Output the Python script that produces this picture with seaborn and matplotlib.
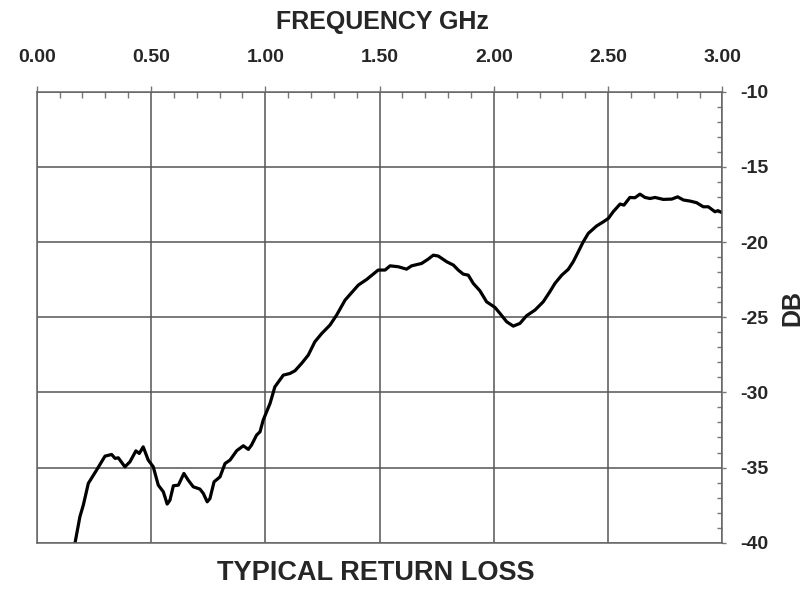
import numpy as np
import pandas as pd
import matplotlib
matplotlib.use('Agg')
import matplotlib.pyplot as plt
import seaborn as sns
from matplotlib.ticker import MultipleLocator

# Dados (frequência em GHz, perda de retorno em dB)
freq = [0.168, 0.189, 0.204, 0.226, 0.262, 0.299, 0.328, 0.343, 0.357, 0.386,
        0.408, 0.434, 0.449, 0.466, 0.488, 0.510, 0.532, 0.554, 0.571, 0.583,
        0.598, 0.620, 0.644, 0.663, 0.685, 0.714, 0.729, 0.746, 0.758, 0.776,
        0.802, 0.824, 0.846, 0.875, 0.904, 0.926, 0.940, 0.962, 0.977, 0.991,
        1.021, 1.042, 1.079, 1.108, 1.130, 1.159, 1.188, 1.217, 1.247, 1.283,
        1.312, 1.349, 1.407, 1.444, 1.494, 1.524, 1.546, 1.582, 1.618, 1.640,
        1.684, 1.713, 1.735, 1.757, 1.794, 1.823, 1.844, 1.866, 1.888, 1.910,
        1.939, 1.968, 2.005, 2.027, 2.056, 2.085, 2.114, 2.143, 2.180, 2.216,
        2.245, 2.267, 2.297, 2.325, 2.347, 2.369, 2.391, 2.413, 2.450, 2.479,
        2.501, 2.522, 2.552, 2.569, 2.595, 2.617, 2.639, 2.661, 2.683, 2.705,
        2.741, 2.778, 2.804, 2.829, 2.858, 2.887, 2.916, 2.938, 2.967, 2.980,
        3.000]
return_loss = [-40.0, -38.28, -37.5, -36.05, -35.17, -34.24, -34.13, -34.39, -34.35, -34.95,
               -34.62, -33.89, -34.06, -33.62, -34.5, -34.95, -36.17, -36.61, -37.43, -37.17,
               -36.21, -36.17, -35.39, -35.84, -36.28, -36.43, -36.72, -37.28, -37.06, -35.95,
               -35.62, -34.73, -34.5, -33.88, -33.55, -33.79, -33.5, -32.84, -32.62, -31.84,
               -30.73, -29.63, -28.85, -28.74, -28.56, -28.07, -27.52, -26.63, -26.08, -25.52,
               -24.86, -23.86, -22.86, -22.48, -21.86, -21.86, -21.58, -21.64, -21.8, -21.58,
               -21.42, -21.13, -20.87, -20.93, -21.31, -21.53, -21.86, -22.13, -22.2, -22.75,
               -23.24, -23.97, -24.35, -24.75, -25.3, -25.59, -25.41, -24.9, -24.52, -23.97,
               -23.3, -22.75, -22.2, -21.82, -21.31, -20.65, -19.98, -19.42, -18.92, -18.65,
               -18.42, -17.98, -17.47, -17.54, -17.03, -17.05, -16.81, -17.03, -17.1, -17.03,
               -17.16, -17.14, -16.99, -17.2, -17.27, -17.38, -17.65, -17.65, -17.98, -17.91,
               -18.05]

x_ticks = [0.0, 0.5, 1.0, 1.5, 2.0, 2.5, 3.0]
x_tick_labels = ['0.00', '0.50', '1.00', '1.50', '2.00', '2.50', '3.00']
y_ticks = [-10, -15, -20, -25, -30, -35, -40]

df = pd.DataFrame({'freq': freq, 'db': return_loss})

sns.set_style('white')
plt.rcParams['font.family'] = ['Liberation Sans', 'DejaVu Sans']
plt.rcParams['font.weight'] = 'bold'
plt.rcParams['axes.unicode_minus'] = False

fig = plt.figure(figsize=(8.04, 5.91), dpi=100)
ax = fig.add_axes([0.0456, 0.0817, 0.853, 0.763])

sns.lineplot(data=df, x='freq', y='db', ax=ax, color='black', linewidth=2.3)

ax.set_xlim(0, 3)
ax.set_ylim(-40, -10)

# eixo X no topo, eixo Y à direita
ax.xaxis.tick_top()
ax.yaxis.tick_right()
ax.set_xticks(x_ticks)
ax.set_xticklabels(x_tick_labels)
ax.set_yticks(y_ticks)
ax.set_yticklabels([str(v) for v in y_ticks])
ax.xaxis.set_minor_locator(MultipleLocator(0.1))
ax.yaxis.set_minor_locator(MultipleLocator(1))

ax.tick_params(axis='x', which='major', direction='out', length=4.5, width=1,
               color='#777777', labelsize=14, pad=14, top=True, bottom=False)
ax.tick_params(axis='x', which='minor', direction='in', length=4, width=1,
               color='#777777', top=True, bottom=False)
ax.tick_params(axis='y', which='major', direction='out', length=3, width=1,
               color='#777777', labelsize=14, pad=10, right=True, left=False)
ax.tick_params(axis='y', which='minor', direction='in', length=3.5, width=1,
               color='#777777', right=True, left=False)
for lab in ax.get_xticklabels() + ax.get_yticklabels():
    lab.set_fontweight('bold')

ax.grid(True, which='major', color='#555555', linewidth=1.1)
for s in ax.spines.values():
    s.set_visible(True)
    s.set_color('#666666')
    s.set_linewidth(1.1)

ax.set_xlabel('')
ax.set_ylabel('')

fig.text(0.476, 0.962, 'FREQUENCY GHz', ha='center', va='center',
         fontsize=18, fontweight='bold')
fig.text(0.467, 0.0305, 'TYPICAL RETURN LOSS', ha='center', va='center',
         fontsize=19.5, fontweight='bold')
fig.text(0.986, 0.479, 'DB', ha='center', va='center', rotation=90,
         fontsize=18, fontweight='bold')

fig.savefig('out.png', dpi=100, facecolor='white')
